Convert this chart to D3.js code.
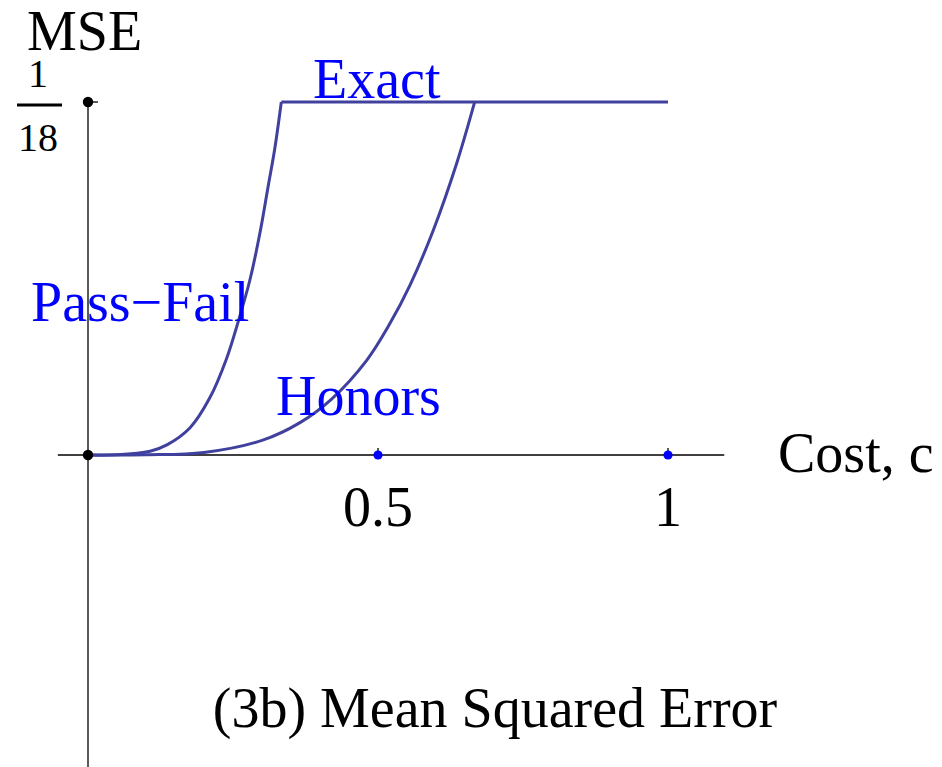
<!DOCTYPE html>
<html>
<head>
<meta charset="utf-8">
<script src="https://cdn.jsdelivr.net/npm/d3@7"></script>
<style>
  html, body { margin: 0; padding: 0; background: #fff; }
  svg { display: block; }
</style>
</head>
<body>
<svg id="chart" width="942" height="767" font-family="'Liberation Serif', 'Times New Roman', Tinos, 'DejaVu Serif', serif"></svg>
<script>
// Mean squared error as a function of the cost c
const passFailCost = [0, 0.05, 0.107, 0.136, 0.176, 0.21, 0.239, 0.259, 0.279, 0.297, 0.311, 0.322, 0.3333];
const passFailMSE  = [0, 0.00003, 0.0006, 0.0016, 0.0043, 0.0090, 0.0152, 0.0210, 0.0275, 0.0352, 0.0425, 0.0482, 0.05556];

const honorsCost = [0, 0.1, 0.2, 0.3, 0.3655, 0.42, 0.4805, 0.52, 0.555, 0.595, 0.636, 0.6667];
const honorsMSE  = [0, 0.00003, 0.0004, 0.0023, 0.0051, 0.0088, 0.0149, 0.0206, 0.0267, 0.0353, 0.0460, 0.05556];

const exactCost = [0.3333, 1];
const exactMSE  = [0.05556, 0.05556];

const xTickValues = [0.5, 1];
const xTickLabels = ["0.5", "1"];
const yTopValue = 1 / 18;

const svg = d3.select("#chart");
const W = 942, H = 767;

const x = d3.scaleLinear().domain([0, 1]).range([88, 668]);
const y = d3.scaleLinear().domain([0, yTopValue]).range([455, 102]);

const lineColor = "#40409e";
const labelBlue = "#0000ff";
const fontSize = 56;

// axes
svg.append("line")
  .attr("x1", x(-0.052)).attr("x2", x(1.097))
  .attr("y1", y(0)).attr("y2", y(0))
  .attr("stroke", "#000").attr("stroke-width", 1.3);
svg.append("line")
  .attr("x1", x(0)).attr("x2", x(0))
  .attr("y1", y(yTopValue)).attr("y2", H)
  .attr("stroke", "#000").attr("stroke-width", 1.3);

// y tick at 1/18
svg.append("line")
  .attr("x1", x(0)).attr("x2", x(0) + 10)
  .attr("y1", y(yTopValue)).attr("y2", y(yTopValue))
  .attr("stroke", "#000").attr("stroke-width", 1.3);

// curves
const line = d3.line()
  .x(d => x(d[0])).y(d => y(d[1]))
  .curve(d3.curveCatmullRom.alpha(0.5));
const flat = d3.line().x(d => x(d[0])).y(d => y(d[1]));

const series = [
  { pts: d3.zip(honorsCost, honorsMSE), gen: line },
  { pts: d3.zip(passFailCost, passFailMSE), gen: line },
  { pts: d3.zip(exactCost, exactMSE), gen: flat }
];
svg.selectAll("path.curve").data(series).join("path")
  .attr("class", "curve")
  .attr("d", s => s.gen(s.pts))
  .attr("fill", "none")
  .attr("stroke", lineColor)
  .attr("stroke-width", 3)
  .attr("stroke-linejoin", "miter");

// x ticks with dots
const xt = svg.selectAll("g.xtick").data(xTickValues).join("g").attr("class", "xtick");
xt.append("line")
  .attr("x1", d => x(d)).attr("x2", d => x(d))
  .attr("y1", y(0) - 7).attr("y2", y(0))
  .attr("stroke", "#000").attr("stroke-width", 1.3);
xt.append("circle")
  .attr("cx", d => x(d)).attr("cy", y(0)).attr("r", 4.6)
  .attr("fill", "#0000ff");
xt.append("text")
  .attr("x", d => x(d)).attr("y", 526)
  .attr("text-anchor", "middle")
  .attr("font-size", fontSize)
  .text((d, i) => xTickLabels[i]);

// origin and top dots
svg.append("circle").attr("cx", x(0)).attr("cy", y(0)).attr("r", 5.2).attr("fill", "#000");
svg.append("circle").attr("cx", x(0)).attr("cy", y(yTopValue)).attr("r", 5.2).attr("fill", "#000");

// y tick label as a fraction 1/18
svg.append("text").attr("x", 38).attr("y", 87).attr("text-anchor", "middle")
  .attr("font-size", 40).text("1");
svg.append("line").attr("x1", 17).attr("x2", 62).attr("y1", 105).attr("y2", 105)
  .attr("stroke", "#000").attr("stroke-width", 3);
svg.append("text").attr("x", 38).attr("y", 151).attr("text-anchor", "middle")
  .attr("font-size", 40).text("18");

// axis titles
svg.append("text").attr("x", 27).attr("y", 50).attr("font-size", fontSize).text("MSE");
svg.append("text").attr("x", 778).attr("y", 472).attr("font-size", fontSize).text("Cost, c");

// series labels
const labels = [
  { t: "Exact", x: 313, y: 98 },
  { t: "Pass\u2212Fail", x: 31, y: 321 },
  { t: "Honors", x: 276, y: 415 }
];
svg.selectAll("text.lbl").data(labels).join("text")
  .attr("class", "lbl")
  .attr("x", d => d.x).attr("y", d => d.y)
  .attr("font-size", fontSize)
  .attr("fill", labelBlue)
  .text(d => d.t);

// caption
svg.append("text").attr("x", 495).attr("y", 727).attr("text-anchor", "middle")
  .attr("font-size", fontSize).text("(3b) Mean Squared Error");
</script>
</body>
</html>
